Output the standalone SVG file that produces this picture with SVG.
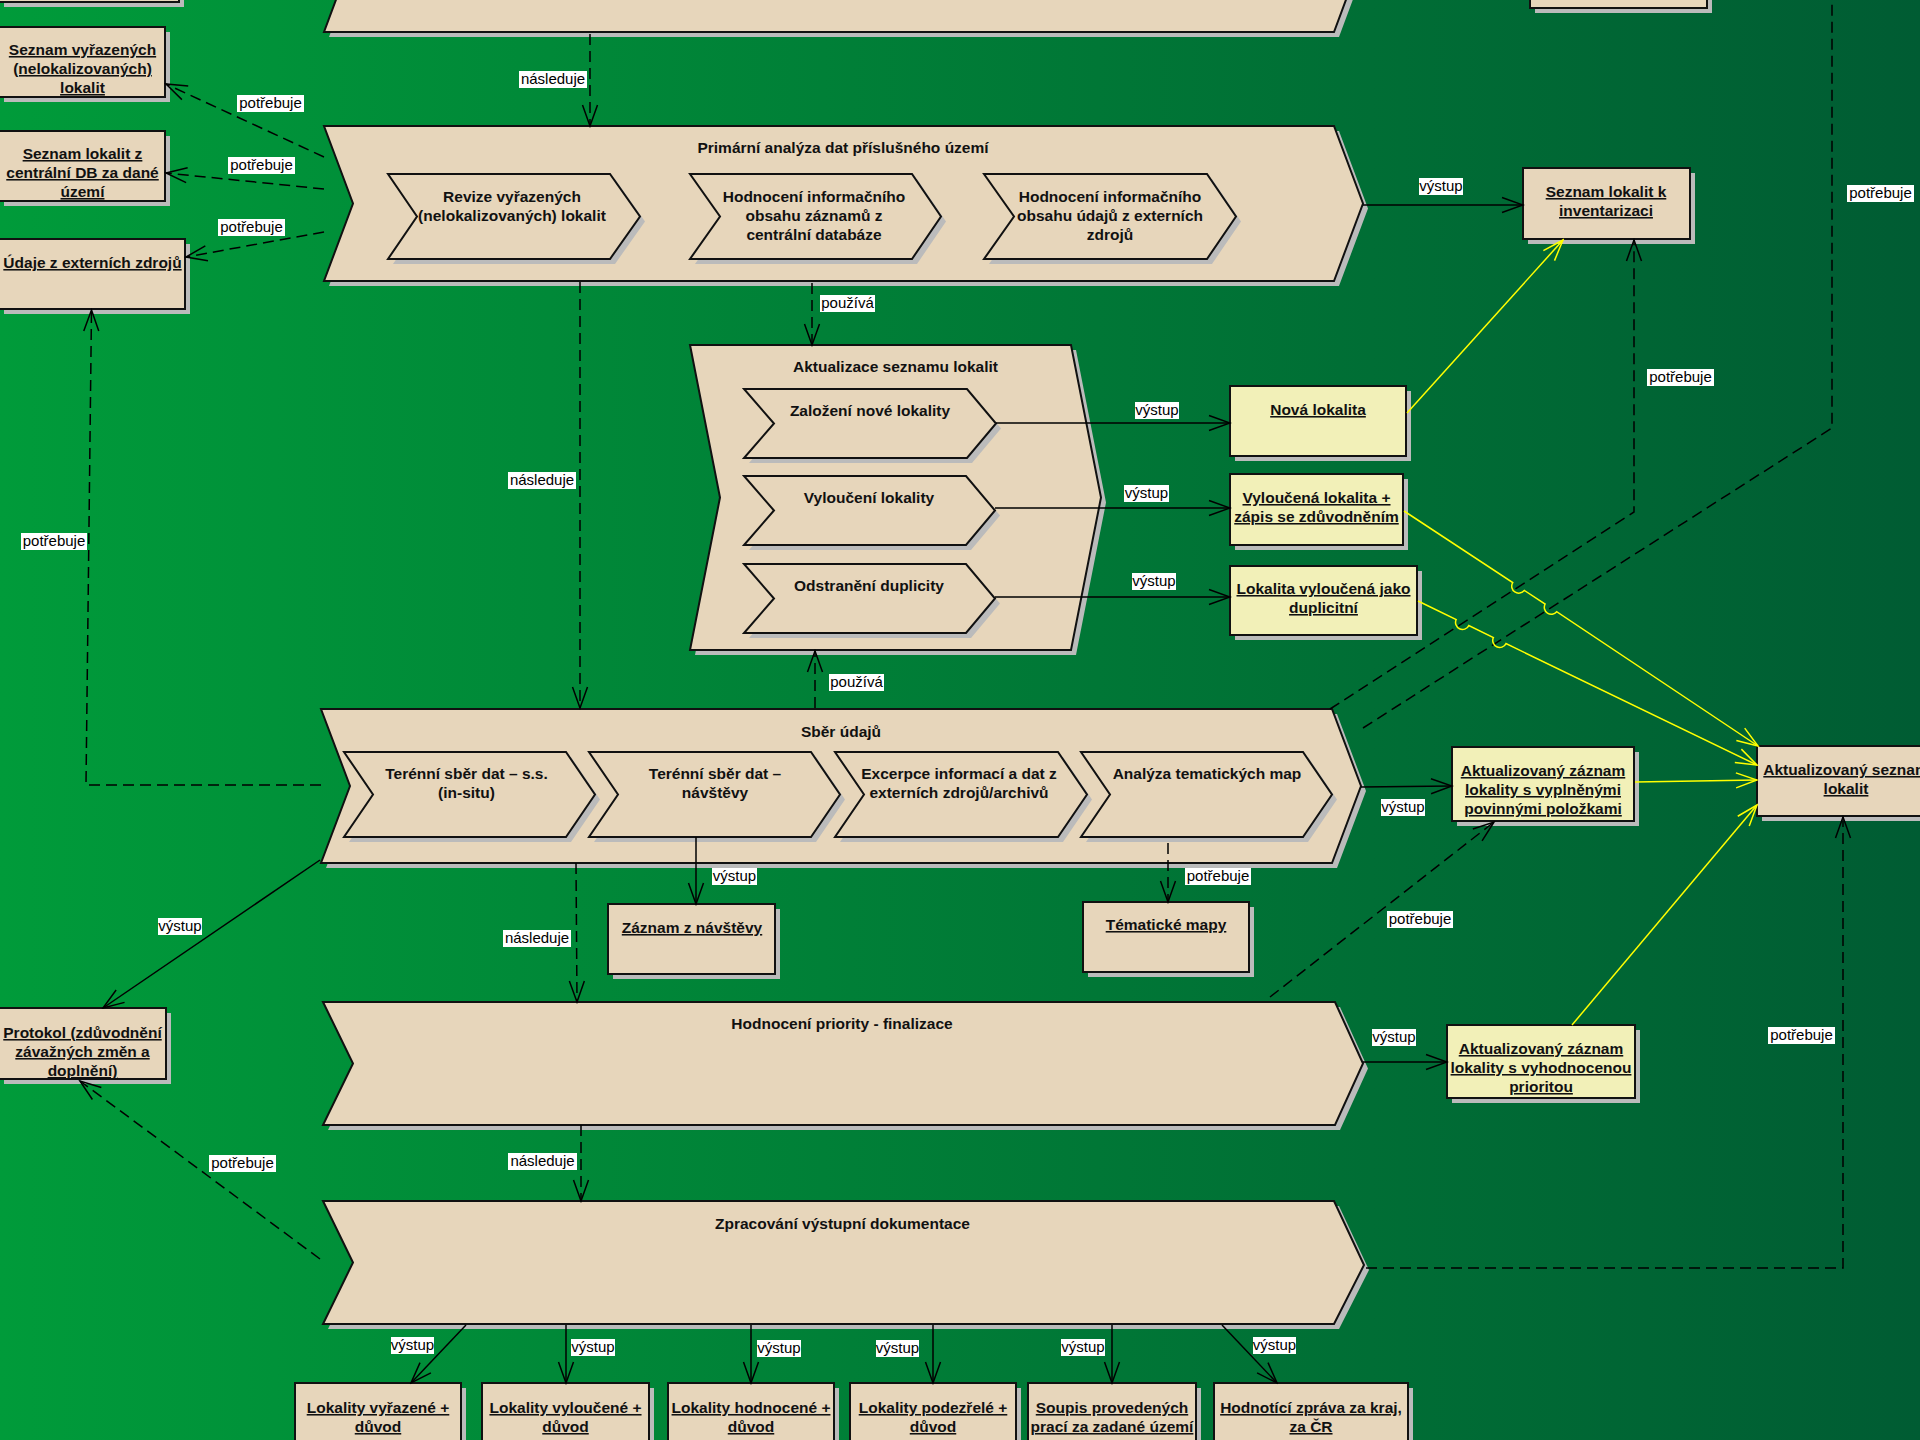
<svg xmlns="http://www.w3.org/2000/svg" width="1920" height="1440" viewBox="0 0 1920 1440">
<defs>
<linearGradient id="bg" x1="0" y1="0" x2="1" y2="0">
<stop offset="0" stop-color="#009B3A"/>
<stop offset="1" stop-color="#005C33"/>
</linearGradient>
<marker id="a" viewBox="-24 -10 26 20" refX="0" refY="0" markerWidth="26" markerHeight="20" markerUnits="userSpaceOnUse" orient="auto">
<path d="M-21,-7.5 L0,0 L-21,7.5" fill="none" stroke="#000" stroke-width="1.5" stroke-dasharray="none"/>
</marker>
<marker id="ay" viewBox="-24 -10 26 20" refX="0" refY="0" markerWidth="26" markerHeight="20" markerUnits="userSpaceOnUse" orient="auto">
<path d="M-21,-7.5 L0,0 L-21,7.5" fill="none" stroke="#FFFF00" stroke-width="1.5" stroke-dasharray="none"/>
</marker>
<style>
.n{fill:#E7D6BB;stroke:#111;stroke-width:2}
.y{fill:#F2F0B8;stroke:#111;stroke-width:2}
.sh{fill:#BBBBBB}
.t{font-family:"Liberation Sans",Arial,sans-serif;font-size:15.5px;font-weight:bold;fill:#111;text-anchor:middle}
.u{text-decoration:underline}
.c{fill:none;stroke:#000;stroke-width:1.5}
.d{stroke-dasharray:11 6}
.yl{fill:none;stroke:#FFFF00;stroke-width:1.5}
.lb{fill:#fff}
.lt{font-family:"Liberation Sans",Arial,sans-serif;font-size:15px;fill:#000;text-anchor:middle}
</style>
</defs>
<rect width="1920" height="1440" fill="url(#bg)"/>

<g id="nodes">
<g id="box-top-left">
<rect class="sh" x="4" y="-55" width="180" height="62"/>
<rect class="n" x="-1" y="-60" width="180" height="62"/>
</g>
<g id="box-top-right">
<rect class="sh" x="1535" y="-49" width="177" height="62"/>
<rect class="n" x="1530" y="-54" width="177" height="62"/>
</g>
<g id="proc-top">
<path class="sh" transform="translate(5,5)" d="M324,-124 H1334 L1363,-46 L1334,32 H324 L353,-46 Z"/>
<path class="n" d="M324,-124 H1334 L1363,-46 L1334,32 H324 L353,-46 Z"/>
</g>

<g id="obj-seznam-vyrazenych">
<rect class="sh" x="4" y="32" width="166" height="70"/>
<rect class="n" x="-1" y="27" width="166" height="70"/>
<text class="t u" x="82.5" y="55">Seznam vyřazených</text>
<text class="t u" x="82.5" y="74">(nelokalizovaných)</text>
<text class="t u" x="82.5" y="93">lokalit</text>
</g>
<g id="obj-seznam-centralni">
<rect class="sh" x="4" y="136" width="166" height="70"/>
<rect class="n" x="-1" y="131" width="166" height="70"/>
<text class="t u" x="82.5" y="159">Seznam lokalit z</text>
<text class="t u" x="82.5" y="178">centrální DB za dané</text>
<text class="t u" x="82.5" y="197">území</text>
</g>
<g id="obj-udaje-externi">
<rect class="sh" x="4" y="244" width="186" height="70"/>
<rect class="n" x="-1" y="239" width="186" height="70"/>
<text class="t u" x="92.5" y="268">Údaje z externích zdrojů</text>
</g>

<g id="proc-primarni">
<path class="sh" transform="translate(5,5)" d="M324,126 H1334 L1363,203.5 L1334,281 H324 L353,203.5 Z"/>
<path class="n" d="M324,126 H1334 L1363,203.5 L1334,281 H324 L353,203.5 Z"/>
<text class="t" x="843" y="153">Primární analýza dat příslušného území</text>
</g>
<g id="proc-revize">
<path class="sh" transform="translate(5,5)" d="M388,174 H610 L640,216.5 L610,259 H388 L417,216.5 Z"/>
<path class="n" d="M388,174 H610 L640,216.5 L610,259 H388 L417,216.5 Z"/>
<text class="t" x="512" y="202">Revize vyřazených</text>
<text class="t" x="512" y="221">(nelokalizovaných) lokalit</text>
</g>
<g id="proc-hodnoceni-centralni">
<path class="sh" transform="translate(5,5)" d="M690,174 H912 L941,216.5 L912,259 H690 L720,216.5 Z"/>
<path class="n" d="M690,174 H912 L941,216.5 L912,259 H690 L720,216.5 Z"/>
<text class="t" x="814" y="202">Hodnocení informačního</text>
<text class="t" x="814" y="221">obsahu záznamů z</text>
<text class="t" x="814" y="240">centrální databáze</text>
</g>
<g id="proc-hodnoceni-externi">
<path class="sh" transform="translate(5,5)" d="M984,174 H1207 L1236,216.5 L1207,259 H984 L1014,216.5 Z"/>
<path class="n" d="M984,174 H1207 L1236,216.5 L1207,259 H984 L1014,216.5 Z"/>
<text class="t" x="1110" y="202">Hodnocení informačního</text>
<text class="t" x="1110" y="221">obsahu údajů z externích</text>
<text class="t" x="1110" y="240">zdrojů</text>
</g>

<g id="obj-seznam-inventarizace">
<rect class="sh" x="1528" y="173" width="167" height="71"/>
<rect class="n" x="1523" y="168" width="167" height="71"/>
<text class="t u" x="1606" y="197">Seznam lokalit k</text>
<text class="t u" x="1606" y="216">inventarizaci</text>
</g>

<g id="proc-aktualizace">
<path class="sh" transform="translate(5,5)" d="M690,345 H1071 L1101,497.5 L1071,650 H690 L720,497.5 Z"/>
<path class="n" d="M690,345 H1071 L1101,497.5 L1071,650 H690 L720,497.5 Z"/>
<text class="t" x="895.5" y="372">Aktualizace seznamu lokalit</text>
</g>
<g id="proc-zalozeni">
<path class="sh" transform="translate(5,5)" d="M744,389 H967 L996,423.5 L967,458 H744 L774,423.5 Z"/>
<path class="n" d="M744,389 H967 L996,423.5 L967,458 H744 L774,423.5 Z"/>
<text class="t" x="870" y="416">Založení nové lokality</text>
</g>
<g id="proc-vylouceni">
<path class="sh" transform="translate(5,5)" d="M744,476 H966 L995,510.5 L966,545 H744 L774,510.5 Z"/>
<path class="n" d="M744,476 H966 L995,510.5 L966,545 H744 L774,510.5 Z"/>
<text class="t" x="869" y="503">Vyloučení lokality</text>
</g>
<g id="proc-odstraneni">
<path class="sh" transform="translate(5,5)" d="M744,564 H966 L995,598.5 L966,633 H744 L774,598.5 Z"/>
<path class="n" d="M744,564 H966 L995,598.5 L966,633 H744 L774,598.5 Z"/>
<text class="t" x="869" y="591">Odstranění duplicity</text>
</g>

<g id="obj-nova-lokalita">
<rect class="sh" x="1235" y="391" width="176" height="70"/>
<rect class="y" x="1230" y="386" width="176" height="70"/>
<text class="t u" x="1318" y="415">Nová lokalita</text>
</g>
<g id="obj-vyloucena-lokalita">
<rect class="sh" x="1235" y="479" width="173" height="71"/>
<rect class="y" x="1230" y="474" width="173" height="71"/>
<text class="t u" x="1316.5" y="503">Vyloučená lokalita +</text>
<text class="t u" x="1316.5" y="522">zápis se zdůvodněním</text>
</g>
<g id="obj-lokalita-duplicitni">
<rect class="sh" x="1235" y="571" width="187" height="69"/>
<rect class="y" x="1230" y="566" width="187" height="69"/>
<text class="t u" x="1323.5" y="594">Lokalita vyloučená jako</text>
<text class="t u" x="1323.5" y="613">duplicitní</text>
</g>

<g id="proc-sber">
<path class="sh" transform="translate(5,5)" d="M321,709 H1332 L1361,786 L1332,863 H321 L350,786 Z"/>
<path class="n" d="M321,709 H1332 L1361,786 L1332,863 H321 L350,786 Z"/>
<text class="t" x="841" y="737">Sběr údajů</text>
</g>
<g id="proc-teren-insitu">
<path class="sh" transform="translate(5,5)" d="M344,752 H566 L595,794.5 L566,837 H344 L373,794.5 Z"/>
<path class="n" d="M344,752 H566 L595,794.5 L566,837 H344 L373,794.5 Z"/>
<text class="t" x="466.5" y="779">Terénní sběr dat – s.s.</text>
<text class="t" x="466.5" y="798">(in-situ)</text>
</g>
<g id="proc-teren-navstevy">
<path class="sh" transform="translate(5,5)" d="M589,752 H811 L840,794.5 L811,837 H589 L618,794.5 Z"/>
<path class="n" d="M589,752 H811 L840,794.5 L811,837 H589 L618,794.5 Z"/>
<text class="t" x="715" y="779">Terénní sběr dat –</text>
<text class="t" x="715" y="798">návštěvy</text>
</g>
<g id="proc-excerpce">
<path class="sh" transform="translate(5,5)" d="M835,752 H1058 L1087,794.5 L1058,837 H835 L864,794.5 Z"/>
<path class="n" d="M835,752 H1058 L1087,794.5 L1058,837 H835 L864,794.5 Z"/>
<text class="t" x="959" y="779">Excerpce informací a dat z</text>
<text class="t" x="959" y="798">externích zdrojů/archivů</text>
</g>
<g id="proc-analyza-map">
<path class="sh" transform="translate(5,5)" d="M1081,752 H1303 L1332,794.5 L1303,837 H1081 L1110,794.5 Z"/>
<path class="n" d="M1081,752 H1303 L1332,794.5 L1303,837 H1081 L1110,794.5 Z"/>
<text class="t" x="1207" y="779">Analýza tematických map</text>
</g>

<g id="obj-zaznam-vyplnene">
<rect class="sh" x="1457" y="752" width="182" height="74"/>
<rect class="y" x="1452" y="747" width="182" height="74"/>
<text class="t u" x="1543" y="776">Aktualizovaný záznam</text>
<text class="t u" x="1543" y="795">lokality s vyplněnými</text>
<text class="t u" x="1543" y="814">povinnými položkami</text>
</g>
<g id="obj-aktualizovany-seznam">
<rect class="sh" x="1762" y="751" width="178" height="70"/>
<rect class="n" x="1757" y="746" width="178" height="70"/>
<text class="t u" x="1846" y="775">Aktualizovaný seznam</text>
<text class="t u" x="1846" y="794">lokalit</text>
</g>
<g id="obj-zaznam-navstevy">
<rect class="sh" x="613" y="909" width="167" height="70"/>
<rect class="n" x="608" y="904" width="167" height="70"/>
<text class="t u" x="692" y="933">Záznam z návštěvy</text>
</g>
<g id="obj-tematicke-mapy">
<rect class="sh" x="1088" y="907" width="166" height="70"/>
<rect class="n" x="1083" y="902" width="166" height="70"/>
<text class="t u" x="1166" y="930">Tématické mapy</text>
</g>
<g id="obj-protokol">
<rect class="sh" x="4" y="1013" width="167" height="71"/>
<rect class="n" x="-1" y="1008" width="167" height="71"/>
<text class="t u" x="82.5" y="1038">Protokol (zdůvodnění</text>
<text class="t u" x="82.5" y="1057">závažných změn a</text>
<text class="t u" x="82.5" y="1076">doplnění)</text>
</g>

<g id="proc-hodnoceni-priority">
<path class="sh" transform="translate(5,5)" d="M323,1002 H1335 L1363,1063.5 L1335,1125 H323 L353,1063.5 Z"/>
<path class="n" d="M323,1002 H1335 L1363,1063.5 L1335,1125 H323 L353,1063.5 Z"/>
<text class="t" x="842" y="1029">Hodnocení priority - finalizace</text>
</g>
<g id="obj-zaznam-priorita">
<rect class="sh" x="1452" y="1030" width="188" height="73"/>
<rect class="y" x="1447" y="1025" width="188" height="73"/>
<text class="t u" x="1541" y="1054">Aktualizovaný záznam</text>
<text class="t u" x="1541" y="1073">lokality s vyhodnocenou</text>
<text class="t u" x="1541" y="1092">prioritou</text>
</g>

<g id="proc-zpracovani">
<path class="sh" transform="translate(5,5)" d="M323,1201 H1334 L1364,1265 L1334,1324 H323 L353,1262.5 Z"/>
<path class="n" d="M323,1201 H1334 L1364,1265 L1334,1324 H323 L353,1262.5 Z"/>
<text class="t" x="842.5" y="1229">Zpracování výstupní dokumentace</text>
</g>

<g id="obj-lokality-vyrazene">
<rect class="sh" x="300" y="1388" width="166" height="70"/>
<rect class="n" x="295" y="1383" width="166" height="70"/>
<text class="t u" x="378" y="1413">Lokality vyřazené +</text>
<text class="t u" x="378" y="1432">důvod</text>
</g>
<g id="obj-lokality-vyloucene">
<rect class="sh" x="487" y="1388" width="167" height="70"/>
<rect class="n" x="482" y="1383" width="167" height="70"/>
<text class="t u" x="565.5" y="1413">Lokality vyloučené +</text>
<text class="t u" x="565.5" y="1432">důvod</text>
</g>
<g id="obj-lokality-hodnocene">
<rect class="sh" x="673" y="1388" width="166" height="70"/>
<rect class="n" x="668" y="1383" width="166" height="70"/>
<text class="t u" x="751" y="1413">Lokality hodnocené +</text>
<text class="t u" x="751" y="1432">důvod</text>
</g>
<g id="obj-lokality-podezrele">
<rect class="sh" x="855" y="1388" width="166" height="70"/>
<rect class="n" x="850" y="1383" width="166" height="70"/>
<text class="t u" x="933" y="1413">Lokality podezřelé +</text>
<text class="t u" x="933" y="1432">důvod</text>
</g>
<g id="obj-soupis-praci">
<rect class="sh" x="1033" y="1388" width="168" height="70"/>
<rect class="n" x="1028" y="1383" width="168" height="70"/>
<text class="t u" x="1112" y="1413">Soupis provedených</text>
<text class="t u" x="1112" y="1432">prací za zadané území</text>
</g>
<g id="obj-hodnotici-zprava">
<rect class="sh" x="1219" y="1388" width="194" height="70"/>
<rect class="n" x="1214" y="1383" width="194" height="70"/>
<text class="t u" x="1311" y="1413">Hodnotící zpráva za kraj,</text>
<text class="t u" x="1311" y="1432">za ČR</text>
</g>
</g>

<g id="connectors">
<path class="c d" marker-end="url(#a)" d="M590,34 V126"/>
<path class="c d" marker-end="url(#a)" d="M324,157 L166,84"/>
<path class="c d" marker-end="url(#a)" d="M324,189 L166,173"/>
<path class="c d" marker-end="url(#a)" d="M324,232 L186,257"/>
<path class="c" marker-end="url(#a)" d="M1363,205 H1523"/>
<path class="c d" marker-end="url(#a)" d="M580,282 V708"/>
<path class="c d" marker-end="url(#a)" d="M812,283 V345"/>
<path class="c d" marker-end="url(#a)" d="M815,708 V651"/>
<path class="c" marker-end="url(#a)" d="M996,423 H1230"/>
<path class="c" marker-end="url(#a)" d="M995,508 H1230"/>
<path class="c" marker-end="url(#a)" d="M995,597 H1230"/>
<path class="c d" marker-end="url(#a)" d="M1330,709 L1634,512 V240"/>
<path class="c d" d="M1363,728 L1832,428 V-5"/>
<path class="c d" marker-end="url(#a)" d="M321,785 H86 L91.5,310"/>
<path class="c" marker-end="url(#a)" d="M1361,787 L1452,786"/>
<path class="c" marker-end="url(#a)" d="M696,837 V904"/>
<path class="c d" marker-end="url(#a)" d="M1168,843 V902"/>
<path class="c" marker-end="url(#a)" d="M320,860 L103,1008"/>
<path class="c d" marker-end="url(#a)" d="M576,863 L577,1002"/>
<path class="c" marker-end="url(#a)" d="M1363,1062 H1447"/>
<path class="c d" marker-end="url(#a)" d="M1270,997 L1494,822"/>
<path class="c d" marker-end="url(#a)" d="M581,1125 V1201"/>
<path class="c d" marker-end="url(#a)" d="M320,1259 L80,1081"/>
<path class="c d" marker-end="url(#a)" d="M1366,1268 H1843 V817"/>
<path class="c" marker-end="url(#a)" d="M466,1325 L411,1383"/>
<path class="c" marker-end="url(#a)" d="M566,1325 V1383"/>
<path class="c" marker-end="url(#a)" d="M751,1325 V1383"/>
<path class="c" marker-end="url(#a)" d="M933,1325 V1383"/>
<path class="c" marker-end="url(#a)" d="M1112,1325 V1383"/>
<path class="c" marker-end="url(#a)" d="M1222,1325 L1277,1383"/>
<path class="yl" marker-end="url(#ay)" d="M1407,413 L1563,240"/>
<path class="yl" marker-end="url(#ay)" d="M1404,511 L1512.7,582.6 A7,7 0 0 0 1524.3,590.4 L1545.1,604 A7,7 0 0 0 1556.7,611.7 L1758,746"/>
<path class="yl" marker-end="url(#ay)" d="M1418,601 L1456.2,619.5 A7,7 0 0 0 1468.8,625.6 L1493.4,637.5 A7,7 0 0 0 1506,643.6 L1757,765"/>
<path class="yl" marker-end="url(#ay)" d="M1635,782 L1757,780"/>
<path class="yl" marker-end="url(#ay)" d="M1572,1025 L1757,805"/>
</g>

<g id="labels">
<rect class="lb" x="519" y="71" width="68" height="17"/><text class="lt" x="553" y="84">následuje</text>
<rect class="lb" x="237" y="95" width="67" height="17"/><text class="lt" x="270.5" y="108">potřebuje</text>
<rect class="lb" x="228" y="157" width="67" height="17"/><text class="lt" x="261.5" y="170">potřebuje</text>
<rect class="lb" x="218" y="219" width="67" height="17"/><text class="lt" x="251.5" y="232">potřebuje</text>
<rect class="lb" x="1419" y="178" width="44" height="17"/><text class="lt" x="1441" y="191">výstup</text>
<rect class="lb" x="1847" y="185" width="67" height="17"/><text class="lt" x="1880.5" y="198">potřebuje</text>
<rect class="lb" x="820" y="295" width="55" height="17"/><text class="lt" x="847.5" y="308">používá</text>
<rect class="lb" x="508" y="472" width="68" height="17"/><text class="lt" x="542" y="485">následuje</text>
<rect class="lb" x="21" y="533" width="66" height="17"/><text class="lt" x="54" y="546">potřebuje</text>
<rect class="lb" x="1135" y="402" width="44" height="17"/><text class="lt" x="1157" y="415">výstup</text>
<rect class="lb" x="1124" y="485" width="45" height="17"/><text class="lt" x="1146.5" y="498">výstup</text>
<rect class="lb" x="1132" y="573" width="44" height="17"/><text class="lt" x="1154" y="586">výstup</text>
<rect class="lb" x="1647" y="369" width="67" height="17"/><text class="lt" x="1680.5" y="382">potřebuje</text>
<rect class="lb" x="829" y="674" width="55" height="17"/><text class="lt" x="856.5" y="687">používá</text>
<rect class="lb" x="1381" y="799" width="44" height="17"/><text class="lt" x="1403" y="812">výstup</text>
<rect class="lb" x="712" y="868" width="45" height="17"/><text class="lt" x="734.5" y="881">výstup</text>
<rect class="lb" x="1185" y="868" width="66" height="17"/><text class="lt" x="1218" y="881">potřebuje</text>
<rect class="lb" x="158" y="918" width="44" height="17"/><text class="lt" x="180" y="931">výstup</text>
<rect class="lb" x="503" y="930" width="68" height="17"/><text class="lt" x="537" y="943">následuje</text>
<rect class="lb" x="1387" y="911" width="66" height="17"/><text class="lt" x="1420" y="924">potřebuje</text>
<rect class="lb" x="1372" y="1029" width="44" height="17"/><text class="lt" x="1394" y="1042">výstup</text>
<rect class="lb" x="1768" y="1027" width="67" height="17"/><text class="lt" x="1801.5" y="1040">potřebuje</text>
<rect class="lb" x="508" y="1153" width="69" height="17"/><text class="lt" x="542.5" y="1166">následuje</text>
<rect class="lb" x="209" y="1155" width="67" height="17"/><text class="lt" x="242.5" y="1168">potřebuje</text>
<rect class="lb" x="391" y="1337" width="43" height="17"/><text class="lt" x="412.5" y="1350">výstup</text>
<rect class="lb" x="571" y="1339" width="44" height="17"/><text class="lt" x="593" y="1352">výstup</text>
<rect class="lb" x="757" y="1340" width="44" height="17"/><text class="lt" x="779" y="1353">výstup</text>
<rect class="lb" x="876" y="1340" width="43" height="17"/><text class="lt" x="897.5" y="1353">výstup</text>
<rect class="lb" x="1061" y="1339" width="44" height="17"/><text class="lt" x="1083" y="1352">výstup</text>
<rect class="lb" x="1253" y="1337" width="43" height="17"/><text class="lt" x="1274.5" y="1350">výstup</text>
</g>
</svg>
